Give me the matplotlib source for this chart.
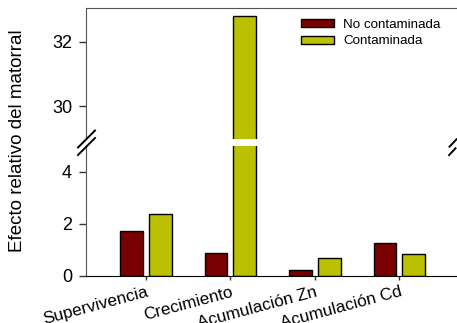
import matplotlib
matplotlib.use("Agg")
import matplotlib.pyplot as plt
import numpy as np
from matplotlib.lines import Line2D

categories = ["Supervivencia", "Crecimiento", "Acumulación Zn", "Acumulación Cd"]
no_contaminada = [1.73, 0.87, 0.22, 1.26]
contaminada = [2.37, 32.8, 0.68, 0.83]
series_labels = ["No contaminada", "Contaminada"]
ylabel = "Efecto relativo del matorral"
upper_ticks = [30, 32]
lower_ticks = [0, 2, 4]

red = "#780000"
green = "#BBC000"

plt.rcParams['font.family'] = ['Liberation Sans', 'DejaVu Sans']

W, H = 457, 323
fig = plt.figure(figsize=(W / 100, H / 100), dpi=100)

def fx(px):
    return px / W

def fy(py):
    return 1 - py / H

left, right = 86, 456
ax_lo = fig.add_axes([fx(left), fy(276), fx(right - left), fy(146) - fy(276)])
ax_hi = fig.add_axes([fx(left), fy(139), fx(right - left), fy(8) - fy(139)])

x = np.arange(len(categories))
w = 0.27
off = 0.17
for ax in (ax_lo, ax_hi):
    ax.bar(x - off, no_contaminada, w, color=red, edgecolor="black", linewidth=1.0,
           label=series_labels[0])
    ax.bar(x + off, contaminada, w, color=green, edgecolor="black", linewidth=1.0,
           label=series_labels[1])
    ax.set_xlim(-0.71, 3.67)
    ax.spines['right'].set_visible(False)
    ax.spines['left'].set_color('#555555')
    ax.tick_params(axis='y', direction='out', length=5, width=1, pad=5,
                   labelsize=13, color='#333333')

ax_lo.set_ylim(0, 5.0)
ax_lo.set_yticks(lower_ticks)
ax_lo.spines['top'].set_visible(False)
ax_lo.spines['bottom'].set_color('black')
ax_lo.set_xticks(x)
ax_lo.set_xticklabels(categories, rotation=15, ha='right', rotation_mode='anchor',
                      fontsize=12.3)
ax_lo.tick_params(axis='x', direction='out', length=3, width=1, pad=3, color='#333333')

ax_hi.set_ylim(28.97, 33.06)
ax_hi.set_yticks(upper_ticks)
ax_hi.spines['bottom'].set_visible(False)
ax_hi.spines['top'].set_color('#555555')
ax_hi.set_xticks([])

# break marks
def slash(cx, cy, hw, hh):
    fig.add_artist(Line2D([fx(cx - hw), fx(cx + hw)], [fy(cy + hh), fy(cy - hh)],
                          color='black', linewidth=1.4, transform=fig.transFigure))

slash(86.5, 139, 8.5, 8.5)
slash(86.5, 146.5, 8.5, 8.5)
slash(453, 143, 3.5, 3.7)
slash(452.3, 151.7, 3.2, 3.4)

fig.text(fx(18), fy(141), ylabel, rotation=90, ha='center', va='center', fontsize=13.5)

handles, labels = ax_hi.get_legend_handles_labels()
fig.legend(handles, labels, loc='upper left', bbox_to_anchor=(fx(301), fy(19)),
           bbox_transform=fig.transFigure, frameon=False, fontsize=9.6,
           handlelength=2.5, handleheight=0.55, handletextpad=0.65,
           labelspacing=0.32, borderpad=0, borderaxespad=0)

fig.savefig("out.png", dpi=100)
